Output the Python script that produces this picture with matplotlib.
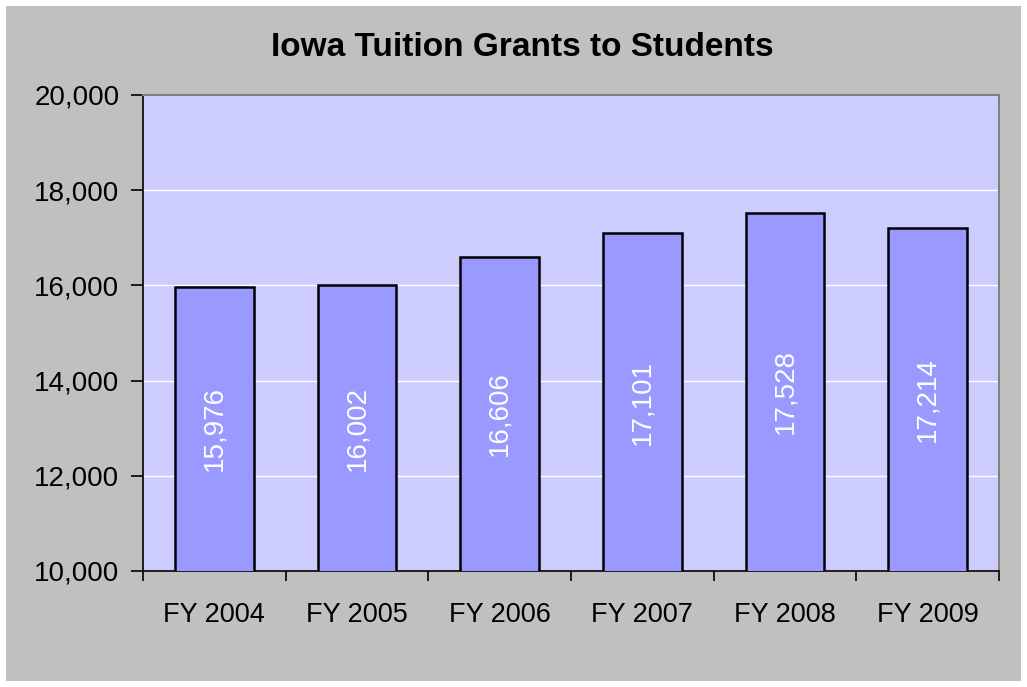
import matplotlib
matplotlib.use('Agg')
import matplotlib.pyplot as plt
from matplotlib.patches import Rectangle

# Donnees
years = ['FY 2004', 'FY 2005', 'FY 2006', 'FY 2007', 'FY 2008', 'FY 2009']
grants = [15976, 16002, 16606, 17101, 17528, 17214]
yticks = [10000, 12000, 14000, 16000, 18000, 20000]

plt.rcParams['font.family'] = ['Liberation Sans', 'DejaVu Sans']

fig = plt.figure(figsize=(10.27, 6.87), dpi=100)
fig.patch.set_facecolor('white')
# fond gris avec marge blanche
fig.patches.append(Rectangle((6/1027, 6/687), 1015/1027, 675/687, transform=fig.transFigure,
                             facecolor='#C0C0C0', edgecolor='none', zorder=-10))

ax = fig.add_axes([143/1027, 1-571/687, 856/1027, 476/687])
ax.set_facecolor('#CCCCFF')

x = list(range(len(years)))
bars = ax.bar(x, grants, width=0.55, bottom=0, color='#9999FF', edgecolor='black', linewidth=1.8, zorder=3)

for xi, v in zip(x, grants):
    ax.text(xi, (10000 + v) / 2, f'{v:,}', rotation=90, color='white', fontsize=20,
            ha='center', va='center', zorder=4)

ax.set_xlim(-0.5, len(years) - 0.5)
ax.set_ylim(10000, 20000)
ax.set_yticks(yticks)
ax.set_yticklabels([f'{t:,}' for t in yticks], fontsize=20)
ax.yaxis.grid(True, color='white', linewidth=1, zorder=1)
ax.set_axisbelow(True)

ax.set_xticks([i + 0.5 for i in range(-1, len(years))])
ax.set_xticklabels([])
ax.set_xticks(x, minor=True)
ax.set_xticklabels(years, minor=True, fontsize=19.5)
ax.tick_params(axis='x', which='minor', length=0, pad=22)
ax.tick_params(axis='x', which='major', length=7, direction='out', width=1.2)
ax.tick_params(axis='y', length=9, direction='out', width=1.2, pad=8)

ax.spines['left'].set_color('black')
ax.spines['bottom'].set_color('black')
ax.spines['left'].set_linewidth(1.2)
ax.spines['bottom'].set_linewidth(1.2)
ax.spines['top'].set_color('#808080')
ax.spines['right'].set_color('#808080')
ax.spines['top'].set_linewidth(1.5)
ax.spines['right'].set_linewidth(1.5)

fig.text(522/1027, 1-48/687, 'Iowa Tuition Grants to Students', ha='center', va='center',
         fontsize=24, fontweight='bold')

fig.savefig('out.png', dpi=100, facecolor=fig.get_facecolor())
